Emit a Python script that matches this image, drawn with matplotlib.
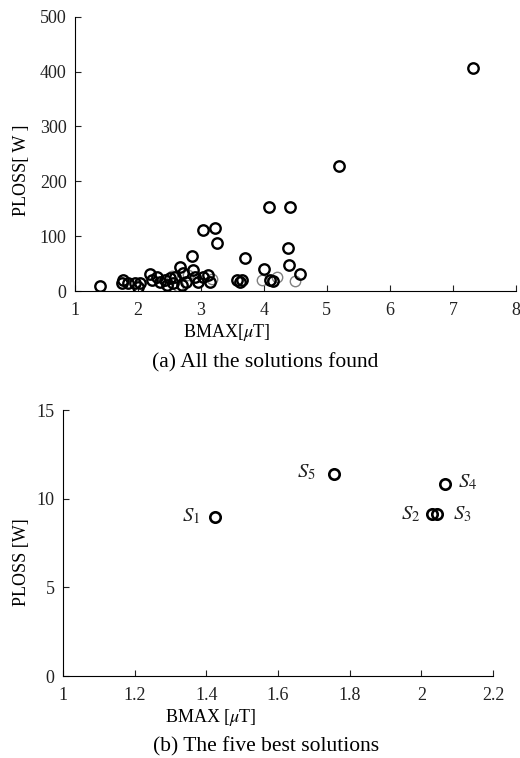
import matplotlib
matplotlib.use('Agg')
import matplotlib.pyplot as plt

plt.rcParams['font.family'] = ['Liberation Serif', 'DejaVu Serif']
plt.rcParams['mathtext.fontset'] = 'stix'

# (a) all solutions found -- dark markers
bmax_all = [1.40, 1.76, 1.75, 1.84, 1.95, 2.03, 2.00, 2.19, 2.22, 2.30, 2.35,
            2.43, 2.51, 2.56, 2.59, 2.67, 2.72, 2.77, 2.86, 2.88, 2.90, 2.95,
            3.03, 3.11, 3.14, 2.46, 2.70, 3.03, 3.22, 3.25, 3.57, 3.62, 3.65,
            3.70, 4.00, 4.08, 4.10, 4.14, 4.38, 4.40, 4.41, 4.57, 5.19, 7.32]
ploss_all = [10, 20, 14, 14, 14, 14, 7, 32, 20, 25, 16,
             20, 23, 14, 25, 44, 33, 16, 63, 38, 25, 16,
             25, 29, 16, 11, 11, 111, 115, 88, 20, 16, 20,
             61, 40, 153, 20, 18, 78, 47, 153, 32, 227, 407]
# fainter markers (drawn lighter in the original)
bmax_faint = [2.54, 2.63, 2.80, 3.17, 3.97, 4.21, 4.49]
ploss_faint = [28, 9, 30, 22, 20, 25, 18]

# (b) the five best solutions
names = ['$S_1$', '$S_2$', '$S_3$', '$S_4$', '$S_5$']
bmax_best = [1.425, 2.030, 2.044, 2.065, 1.756]
ploss_best = [8.98, 9.12, 9.12, 10.81, 11.39]
label_offsets = [(-17, 0), (-15.5, 0), (18.5, 0), (16.5, 1.5), (-20, 1.5)]

fig = plt.figure(figsize=(5.2, 7.58), dpi=100)
ax1 = fig.add_axes([0.144, 0.616, 0.848, 0.362])
ax2 = fig.add_axes([0.121, 0.108, 0.827, 0.351])

ax1.plot(bmax_faint, ploss_faint, 'o', mfc='none', mec='#808080', ms=7.5, mew=1.0)
ax1.plot(bmax_all, ploss_all, 'o', mfc='none', mec='black', ms=7.5, mew=1.7)
ax1.set_xlim(1, 8)
ax1.set_ylim(0, 500)
ax1.set_xticks(range(1, 9))
ax1.set_yticks(range(0, 501, 100))

ax2.plot(bmax_best, ploss_best, 'o', mfc='none', mec='black', ms=7.5, mew=1.9)
for n, x, y, off in zip(names, bmax_best, ploss_best, label_offsets):
    ax2.annotate(n, (x, y), xytext=off, textcoords='offset points',
                 ha='center', va='center', fontsize=15, color='#222222')
ax2.set_xlim(1, 2.2)
ax2.set_ylim(0, 15)
ax2.set_xticks([1, 1.2, 1.4, 1.6, 1.8, 2, 2.2])
ax2.set_xticklabels(['1', '1.2', '1.4', '1.6', '1.8', '2', '2.2'])
ax2.set_yticks([0, 5, 10, 15])

for ax in (ax1, ax2):
    ax.spines['top'].set_visible(False)
    ax.spines['right'].set_visible(False)
    ax.tick_params(direction='in', length=4, width=0.8, labelsize=13,
                   colors='#222222')
    ax.tick_params(axis='x', pad=8)
    ax.tick_params(axis='y', pad=6)

# axis labels and captions (pixel positions of the original)
W, H = 520, 758
fig.text(227 / W, 1 - 333 / H, 'BMAX[$\\mu$T]', ha='center', va='center', fontsize=13)
fig.text(22 / W, 1 - 170 / H, 'PLOSS[ W ]', ha='center', va='center',
         rotation=90, fontsize=13)
fig.text(265 / W, 1 - 363 / H, '(a) All the solutions found', ha='center',
         va='center', fontsize=15.5)

fig.text(211 / W, 1 - 718 / H, 'BMAX [$\\mu$T]', ha='center', va='center', fontsize=13)
fig.text(22 / W, 1 - 562 / H, 'PLOSS [W]', ha='center', va='center',
         rotation=90, fontsize=13)
fig.text(266 / W, 1 - 747 / H, '(b) The five best solutions', ha='center',
         va='center', fontsize=15.5)

fig.savefig('out.png', dpi=100)
